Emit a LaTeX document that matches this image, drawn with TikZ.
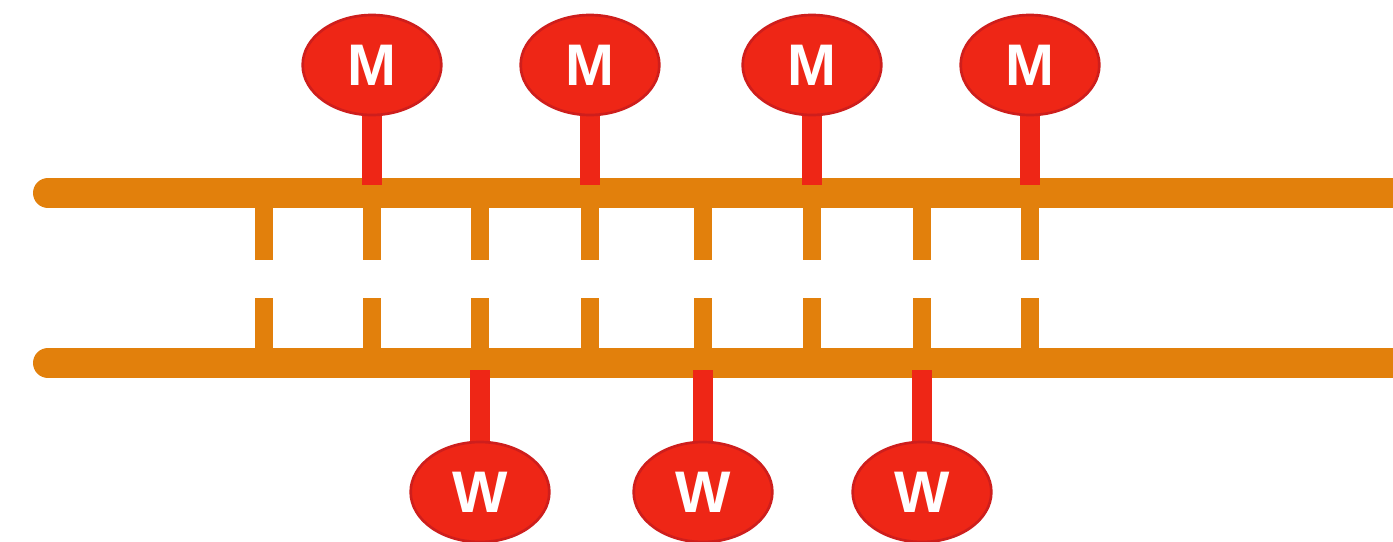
\documentclass[tikz,border=0pt]{standalone}
\usepackage{fontspec}
\setmainfont{Liberation Sans}
\usetikzlibrary{shapes.geometric}
\pgfdeclarelayer{background}
\pgfsetlayers{background,main}
\definecolor{busorange}{RGB}{226,128,12}
\definecolor{nodered}{RGB}{238,38,22}
\definecolor{rimred}{RGB}{206,30,28}
\begin{document}
\begin{tikzpicture}[x=0.75pt,y=-0.75pt,
  bus/.style={line width=22.5pt, busorange, line cap=round},
  tap/.style={line width=14pt, busorange},
  stem/.style={line width=15pt, nodered},
  station/.style={ellipse, fill=nodered, draw=rimred, line width=2pt,
    minimum width=104pt, minimum height=75pt, inner sep=0pt, text=white,
    font=\fontsize{44}{44}\selectfont\bfseries}]
\useasboundingbox (0,0) rectangle (1393,542);
\clip (0,0) rectangle (1393,542);

% stations on the upper bus (M) and lower bus (W)
\node[station] (m1) at (372,65) {M};
\node[station] (m2) at (590,65) {M};
\node[station] (m3) at (812,65) {M};
\node[station] (m4) at (1030,65) {M};
\node[station] (w1) at (480,492) {W};
\node[station] (w2) at (703,492) {W};
\node[station] (w3) at (922,492) {W};

% bus end points
\coordinate (ta) at (48,193);
\coordinate (tb) at (1430,193);
\coordinate (ba) at (48,363);
\coordinate (bb) at (1430,363);

\begin{pgfonlayer}{background}
  \draw[bus] (ta) -- (tb);
  \draw[bus] (ba) -- (bb);
  % short taps between the two buses
  \foreach \x in {264,372,480,590,703,812,922,1030} {
    \coordinate (u\x) at (\x,200);
    \coordinate (ue\x) at (\x,260);
    \coordinate (l\x) at (\x,298);
    \coordinate (le\x) at (\x,356);
    \draw[tap] (u\x) -- (ue\x);
    \draw[tap] (l\x) -- (le\x);
  }
  % stems joining the stations to the buses
  \foreach \n/\x in {m1/372,m2/590,m3/812,m4/1030} {
    \coordinate (s\n) at (\x,185);
    \draw[stem] (\n.center) -- (s\n);
  }
  \foreach \n/\x in {w1/480,w2/703,w3/922} {
    \coordinate (s\n) at (\x,370);
    \draw[stem] (\n.center) -- (s\n);
  }
\end{pgfonlayer}
\end{tikzpicture}
\end{document}
